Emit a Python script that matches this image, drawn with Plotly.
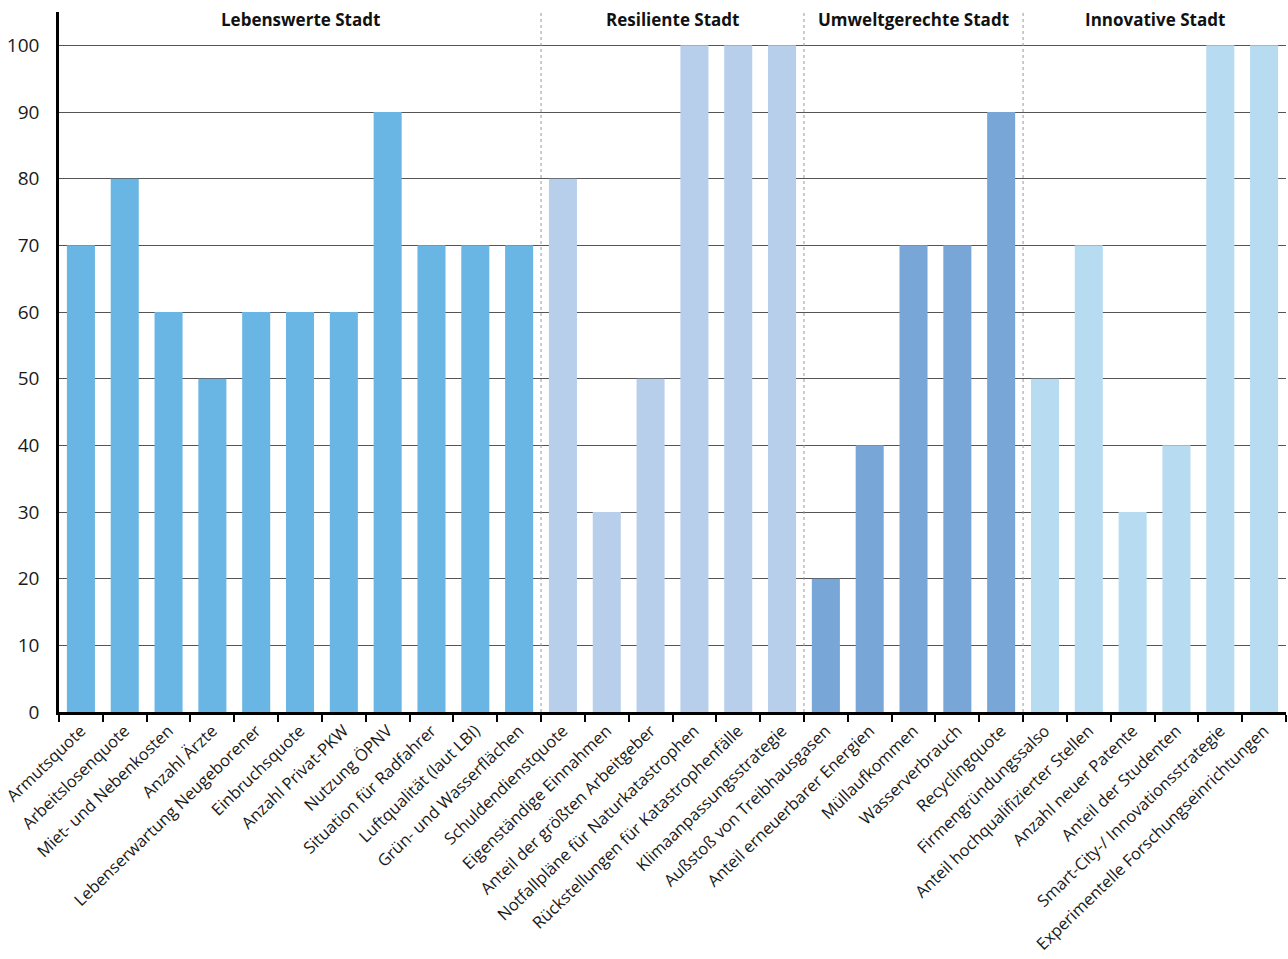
import plotly.graph_objects as go

categories = [
    "Armutsquote", "Arbeitslosenquote", "Miet- und Nebenkosten", "Anzahl Ärzte",
    "Lebenserwartung Neugeborener", "Einbruchsquote", "Anzahl Privat-PKW", "Nutzung ÖPNV",
    "Situation für Radfahrer", "Luftqualität (laut LBI)", "Grün- und Wasserflächen",
    "Schuldendienstquote", "Eigenständige Einnahmen", "Anteil der größten Arbeitgeber",
    "Notfallpläne für Naturkatastrophen", "Rückstellungen für Katastrophenfälle",
    "Klimaanpassungsstrategie",
    "Außstoß von Treibhausgasen", "Anteil erneuerbarer Energien", "Müllaufkommen",
    "Wasserverbrauch", "Recyclingquote",
    "Firmengründungssalso", "Anteil hochqualifizierter Stellen", "Anzahl neuer Patente",
    "Anteil der Studenten", "Smart-City-/ Innovationsstrategie",
    "Experimentelle Forschungseinrichtungen",
]
values = [70, 80, 60, 50, 60, 60, 60, 90, 70, 70, 70,
          80, 30, 50, 100, 100, 100,
          20, 40, 70, 70, 90,
          50, 70, 30, 40, 100, 100]
group_names = ["Lebenswerte Stadt", "Resiliente Stadt", "Umweltgerechte Stadt", "Innovative Stadt"]
group_sizes = [11, 6, 5, 6]
group_colors = ["#69b6e4", "#b8cfec", "#78a7d7", "#b7dcf2"]

bar_colors = []
for size, col in zip(group_sizes, group_colors):
    bar_colors += [col] * size

fig = go.Figure()
fig.add_trace(go.Bar(
    x=categories, y=values,
    marker=dict(color=bar_colors, line=dict(width=0)),
    showlegend=False,
))

shapes = []
annotations = []
start = 0
for i, (name, size) in enumerate(zip(group_names, group_sizes)):
    end = start + size
    center = (start + end - 1) / 2
    annotations.append(dict(
        x=center, y=0.989, xref="x", yref="paper", text="<b>" + name + "</b>",
        showarrow=False, xanchor="center", yanchor="middle",
        font=dict(family="Open Sans", size=17, color="#111"),
    ))
    if i < len(group_sizes) - 1:
        shapes.append(dict(
            type="line", xref="x", yref="paper", x0=end - 0.5, x1=end - 0.5,
            y0=0, y1=1, line=dict(color="#999999", width=1, dash="dot"),
        ))
    start = end

fig.update_layout(
    width=1288, height=959,
    margin=dict(l=59, r=2, t=12, b=247),
    paper_bgcolor="white", plot_bgcolor="white",
    bargap=0.36,
    shapes=shapes, annotations=annotations,
    font=dict(family="Open Sans", color="#222"),
    xaxis=dict(
        tickangle=-44, tickfont=dict(size=16.5, color="#1a1a1a"),
        showline=True, linecolor="black", linewidth=2.5,
        ticks="outside", tickson="boundaries", ticklen=7, tickwidth=1.5, tickcolor="black",
        showgrid=False, range=[-0.5, len(categories) - 0.5],
    ),
    yaxis=dict(
        range=[0, 105], dtick=10, tick0=0,
        tickfont=dict(size=19, color="#1a1a1a"),
        showline=True, linecolor="black", linewidth=2.5,
        showgrid=True, gridcolor="#555555", gridwidth=1,
        zeroline=False, ticks="", ticklabelstandoff=13,
    ),
)

fig.write_html("out.html")
